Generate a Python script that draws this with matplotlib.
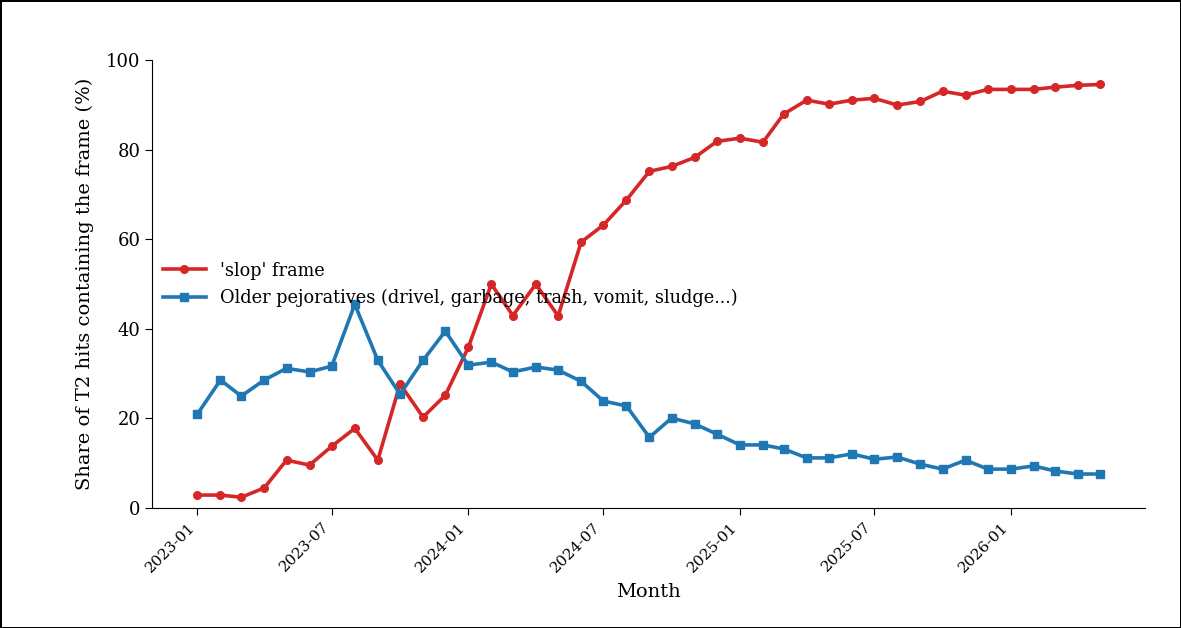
import numpy as np
import pandas as pd
import matplotlib
matplotlib.use("Agg")
import matplotlib.pyplot as plt
import matplotlib.dates as mdates

plt.rcParams['font.family'] = ['DejaVu Serif']

# Monthly series, 2023-01 .. 2026-05
months = pd.date_range("2023-01-01", "2026-05-01", freq="MS")

slop_share = [2.9, 2.9, 2.4, 4.5, 10.7, 9.6, 13.8, 17.8, 10.7, 27.7,
              20.3, 25.2, 35.9, 50.0, 43.0, 50.0, 42.9, 59.4, 63.2, 68.8,
              75.2, 76.3, 78.3, 81.9, 82.6, 81.7, 88.0, 91.1, 90.2, 91.1,
              91.5, 90.0, 90.8, 93.1, 92.2, 93.5, 93.5, 93.5, 94.0, 94.4,
              94.6]
older_share = [21.0, 28.6, 25.0, 28.6, 31.2, 30.4, 31.7, 45.5, 33.0, 25.4,
               33.0, 39.5, 31.9, 32.6, 30.4, 31.5, 30.8, 28.3, 23.9, 22.8,
               15.8, 20.1, 18.8, 16.5, 14.1, 14.1, 13.2, 11.2, 11.2, 12.1,
               10.9, 11.4, 9.8, 8.7, 10.7, 8.7, 8.7, 9.4, 8.3, 7.6,
               7.6]

fig = plt.figure(figsize=(11.81, 6.28), dpi=100, edgecolor='black', linewidth=2)
ax = fig.add_axes([0.129, 0.191, 0.8405, 0.713])

ax.plot(months, slop_share, color='#d62728', marker='o', markersize=5.5,
        lw=2.6, label="'slop' frame")
ax.plot(months, older_share, color='#1f77b4', marker='s', markersize=5.5,
        lw=2.6, label="Older pejoratives (drivel, garbage, trash, vomit, sludge...)")

ax.set_ylim(0, 100)
ax.set_yticks([0, 20, 40, 60, 80, 100])
ax.xaxis.set_major_locator(mdates.MonthLocator(bymonth=[1, 7]))
ax.xaxis.set_major_formatter(mdates.DateFormatter('%Y-%m'))
plt.setp(ax.get_xticklabels(), rotation=45, ha='right', rotation_mode='default')
ax.tick_params(axis='y', labelsize=13, length=5)
ax.tick_params(axis='x', labelsize=11, length=5)

for side in ['top', 'right']:
    ax.spines[side].set_visible(False)

ax.set_xlabel('Month', fontsize=14, labelpad=6)
ax.set_ylabel('Share of T2 hits containing the frame (%)', fontsize=14, labelpad=9)

ax.legend(loc='center left', frameon=False, fontsize=12.8,
          handlelength=2.4, borderaxespad=0.2)

fig.savefig('out.png', dpi=100)
